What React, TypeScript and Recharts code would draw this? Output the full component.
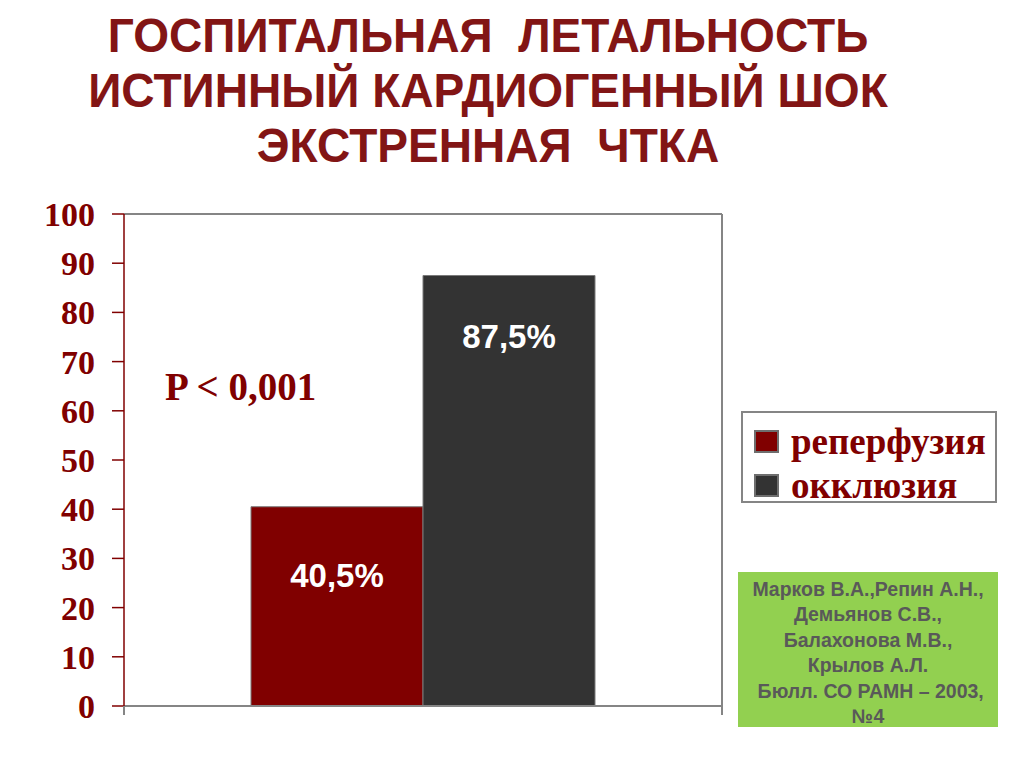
import React from "react";
import { BarChart, Bar, XAxis, YAxis, Legend, LabelList } from "recharts";

// values
const categories = ["Истинный кардиогенный шок"];
const reperfusion = [40.5];
const occlusion = [87.5];
const yTicks = [0, 10, 20, 30, 40, 50, 60, 70, 80, 90, 100];
const seriesNames = ["реперфузия", "окклюзия"];
const titleLines = [
  "ГОСПИТАЛЬНАЯ  ЛЕТАЛЬНОСТЬ",
  "ИСТИННЫЙ КАРДИОГЕННЫЙ ШОК",
  "ЭКСТРЕННАЯ  ЧТКА",
];
const citation = [
  "Марков В.А.,Репин А.Н.,",
  "Демьянов С.В.,",
  "Балахонова М.В.,",
  "Крылов А.Л.",
  " Бюлл. СО РАМН – 2003,",
  "№4",
];
const pValue = "P < 0,001";

const data = categories.map((name, i) => ({
  name,
  reperfusion: reperfusion[i],
  occlusion: occlusion[i],
}));

const MAROON = "#800000";
const DARK = "#333333";
const FRAME = "#858585";

const fmt = (v: any) => `${String(v).replace(".", ",")}%`;

// category axis tick: small marks at both edges of the category band, no label
function EdgeTicks(props: any) {
  const { x, y, payload, width } = props;
  const half = payload && payload.offset ? payload.offset : width / 2;
  return (
    <g stroke={FRAME} strokeWidth={2}>
      <line x1={x - half} x2={x - half} y1={y} y2={y + 9} />
      <line x1={x + half} x2={x + half} y1={y} y2={y + 9} />
    </g>
  );
}

function LegendBox(props: any) {
  const items = [...(props.payload || [])].sort(
    (a: any, b: any) => seriesNames.indexOf(a.value) - seriesNames.indexOf(b.value)
  );
  return (
    <div
      style={{
        boxSizing: "border-box",
        width: 256,
        height: 92,
        border: `2px solid ${FRAME}`,
        background: "#fff",
        paddingTop: 6,
        paddingLeft: 11,
      }}
    >
      {items.map((it: any) => (
        <div
          key={it.value}
          style={{ display: "flex", alignItems: "center", height: 44 }}
        >
          <span
            style={{
              display: "inline-block",
              width: 21,
              height: 19,
              background: it.color,
              border: "2px solid #6e6e6e",
              marginRight: 12,
            }}
          />
          <span
            style={{
              fontFamily: "'Liberation Serif', serif",
              fontWeight: 700,
              fontSize: 37,
              color: MAROON,
              lineHeight: "37px",
            }}
          >
            {it.value}
          </span>
        </div>
      ))}
    </div>
  );
}

export default function App() {
  return (
    <div
      style={{
        position: "absolute",
        left: 0,
        top: 0,
        width: 1024,
        height: 767,
        background: "#fff",
        overflow: "hidden",
      }}
    >
      <div
        style={{
          position: "absolute",
          left: 0,
          top: 8,
          width: 976,
          textAlign: "center",
          fontFamily: "'Liberation Sans', Arial, sans-serif",
          fontWeight: 700,
          fontSize: 49,
          lineHeight: "55px",
          color: "#821515",
          whiteSpace: "pre",
        }}
      >
        {titleLines.map((t) => (
          <div key={t} style={{ transform: "scaleX(0.94)" }}>
            {t}
          </div>
        ))}
      </div>

      <BarChart
        width={1024}
        height={767}
        data={data}
        margin={{ top: 213, right: 301, bottom: 41, left: 0 }}
        barGap={0}
        style={{ position: "absolute", left: 0, top: 0 }}
      >
        <XAxis
          dataKey="name"
          height={20}
          axisLine={{ stroke: FRAME, strokeWidth: 2 }}
          tickLine={false}
          tickSize={0}
          tickMargin={0}
          tick={<EdgeTicks />}
        />
        <XAxis
          xAxisId="top"
          orientation="top"
          dataKey="name"
          height={1}
          axisLine={{ stroke: FRAME, strokeWidth: 2 }}
          tickLine={false}
          tick={false}
        />
        <YAxis
          domain={[0, 100]}
          ticks={yTicks}
          interval={0}
          width={124}
          axisLine={{ stroke: MAROON, strokeWidth: 1.5 }}
          tickLine={{ stroke: MAROON, strokeWidth: 1.5 }}
          tickSize={12}
          tickMargin={17}
          tick={{
            fill: MAROON,
            fontFamily: "'Liberation Serif', serif",
            fontWeight: 700,
            fontSize: 34,
          }}
        />
        <YAxis
          yAxisId="right"
          orientation="right"
          domain={[0, 100]}
          width={1}
          axisLine={{ stroke: FRAME, strokeWidth: 2 }}
          tickLine={false}
          tick={false}
        />
        <Legend
          layout="vertical"
          verticalAlign="middle"
          align="center"
          content={<LegendBox />}
          wrapperStyle={{ left: 741, top: 411, width: 256, height: 92 }}
        />
        <Bar
          dataKey="reperfusion"
          name={seriesNames[0]}
          fill={MAROON}
          stroke="#7a7a7a"
          strokeWidth={1}
          barSize={172}
          isAnimationActive={false}
        >
          <LabelList
            dataKey="reperfusion"
            position="insideTop"
            offset={57}
            formatter={fmt}
            fill="#fff"
            style={{
              fontFamily: "'Liberation Sans', Arial, sans-serif",
              fontWeight: 700,
              fontSize: 33,
            }}
          />
        </Bar>
        <Bar
          dataKey="occlusion"
          name={seriesNames[1]}
          fill={DARK}
          stroke="#7a7a7a"
          strokeWidth={1}
          barSize={172}
          isAnimationActive={false}
        >
          <LabelList
            dataKey="occlusion"
            position="insideTop"
            offset={49}
            formatter={fmt}
            fill="#fff"
            style={{
              fontFamily: "'Liberation Sans', Arial, sans-serif",
              fontWeight: 700,
              fontSize: 33,
            }}
          />
        </Bar>
      </BarChart>

      <div
        style={{
          position: "absolute",
          left: 165,
          top: 365,
          fontFamily: "'Liberation Serif', serif",
          fontWeight: 700,
          fontSize: 39,
          lineHeight: "44px",
          color: MAROON,
          whiteSpace: "pre",
        }}
      >
        {pValue}
      </div>

      <div
        style={{
          position: "absolute",
          left: 738,
          top: 572,
          width: 260,
          height: 155,
          boxSizing: "border-box",
          paddingTop: 5,
          background: "#92d050",
          color: "#595959",
          fontFamily: "'Liberation Sans', Arial, sans-serif",
          fontWeight: 700,
          fontSize: 19.5,
          lineHeight: "25.4px",
          textAlign: "center",
          whiteSpace: "pre",
        }}
      >
        {citation.map((c) => (
          <div key={c}>{c}</div>
        ))}
      </div>
    </div>
  );
}
